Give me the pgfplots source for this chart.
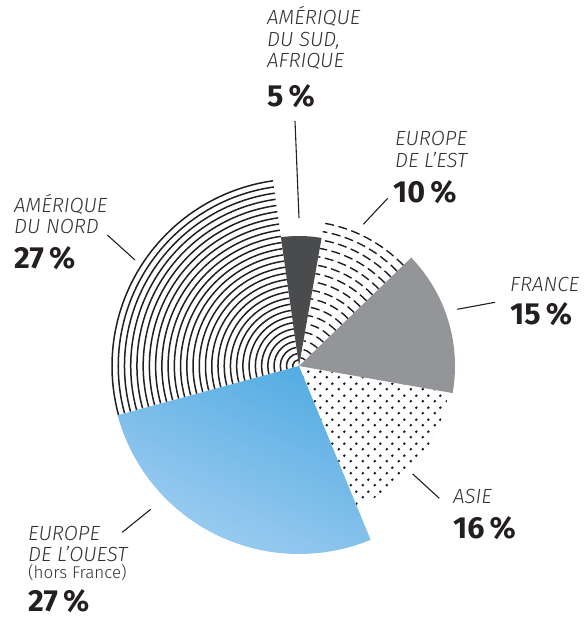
\documentclass[border=0pt]{standalone}
\usepackage{pgfplots}
\pgfplotsset{compat=1.18}
\usepackage{pgfplotstable}
\usetikzlibrary{patterns}
\usepackage{fontspec}
\setmainfont{Fira Sans}[UprightFont=* Light, ItalicFont=* Light Italic, BoldFont=* Bold]
\definecolor{txt}{HTML}{333333}
\definecolor{ink}{HTML}{231F20}
\definecolor{darkslice}{HTML}{4A4B4D}
\definecolor{frgray}{HTML}{939598}
\definecolor{blueA}{HTML}{55ADE3}
\definecolor{blueB}{HTML}{A4CFF1}

\pgfdeclarepatternformonly{bigdots}{\pgfqpoint{0pt}{0pt}}{\pgfqpoint{12pt}{12pt}}{\pgfqpoint{12pt}{12pt}}{%
  \pgfpathcircle{\pgfqpoint{3pt}{3pt}}{1.6pt}%
  \pgfpathcircle{\pgfqpoint{9pt}{9pt}}{1.6pt}%
  \pgfusepath{fill}}

% share (%) and outer radius (px) of each slice, clockwise from the top
\pgfplotstableread{
region pct r
sud    5  130
est    10 145
france 15 156
asie   16 152
ouest  27 188
nord   27 187
}\parts

\newcommand\getval[3]{\pgfplotstablegetelem{#1}{#2}\of\parts\global\let#3\pgfplotsretval}
\newcommand\gset[2]{\pgfmathsetmacro#1{#2}\global\let#1#1}
\newcommand\labf{\color{txt}\itshape\fontsize{20.5}{22}\selectfont}
\newcommand\numf{\color{ink}\bfseries\fontsize{30.5}{32}\selectfont}

\begin{document}
\begin{tikzpicture}
\getval{0}{pct}\pA \getval{0}{r}\rA
\getval{1}{pct}\pB \getval{1}{r}\rB
\getval{2}{pct}\pC \getval{2}{r}\rC
\getval{3}{pct}\pD \getval{3}{r}\rD
\getval{4}{pct}\pE \getval{4}{r}\rE
\getval{5}{pct}\pF \getval{5}{r}\rF
\gset\angO{98}
\gset\angA{\angO-3.6*\pA}
\gset\angB{\angA-3.6*\pB}
\gset\angC{\angB-3.6*\pC}
\gset\angD{\angC-3.6*\pD}
\gset\angE{\angD-3.6*\pE}
\gset\angEE{\angE+360}
\gset\stepF{\rF/30}
\gset\stepB{\rB/17}
\begin{axis}[x=1pt,y=1pt,xmin=0,xmax=586,ymin=0,ymax=620,
  hide axis, clip=false, anchor=origin, at={(0,0)}]
\coordinate (BL) at (axis cs:0,0);
\coordinate (TR) at (axis cs:586,620);
\coordinate (C) at (axis cs:299,254);
% Amerique du Nord: concentric arcs
\pgfplotsinvokeforeach{1,...,30}{
  \draw[ink, line width=1.5pt] (C) ++(\angEE:{#1*\stepF*1pt}) arc[start angle=\angEE, end angle=\angO, radius={#1*\stepF*1pt}];
}
% Europe de l'Est: dashed arcs
\pgfplotsinvokeforeach{1,...,17}{
  \draw[ink, line width=1.4pt, dash pattern=on 9pt off 4.5pt] (C) ++(\angB:{#1*\stepB*1pt}) arc[start angle=\angB, end angle=\angA, radius={#1*\stepB*1pt}];
}
% Asie: dots
\fill[pattern=bigdots, pattern color=ink]
  (C) -- ++(\angC:\rD pt) arc[start angle=\angC, end angle=\angD, radius=\rD pt] -- cycle;
% Europe de l'Ouest: blue gradient
\shade[top color=blueA, bottom color=blueB, shading angle=-25]
  (C) -- ++(\angD:\rE pt) arc[start angle=\angD, end angle=\angE, radius=\rE pt] -- cycle;
% France
\fill[frgray] (C) -- ++(\angB:\rC pt) arc[start angle=\angB, end angle=\angC, radius=\rC pt] -- cycle;
% Amerique du Sud, Afrique
\fill[darkslice] (C) -- ++(\angO:\rA pt) arc[start angle=\angO, end angle=\angA, radius=\rA pt] -- cycle;

% leader lines
\addplot[ink, line width=1.1pt, no markers] coordinates {(295,499) (299,402)};
\addplot[ink, line width=1.1pt, no markers] coordinates {(387.7,421.7) (363.3,395.7)};
\addplot[ink, line width=1.1pt, no markers] coordinates {(457.3,310.7) (495,317.7)};
\addplot[ink, line width=1.1pt, no markers] coordinates {(107.3,385) (135,360)};
\addplot[ink, line width=1.1pt, no markers] coordinates {(412.7,146) (439.3,121.7)};
\addplot[ink, line width=1.1pt, no markers] coordinates {(122.3,87.7) (150.7,110.7)};

% labels
\node[anchor=base west, inner sep=0pt, font=\labf] at (axis cs:267,595) {AMÉRIQUE};
\node[anchor=base west, inner sep=0pt, font=\labf] at (axis cs:267,573) {DU SUD,};
\node[anchor=base west, inner sep=0pt, font=\labf] at (axis cs:267,552) {AFRIQUE};
\node[anchor=base west, inner sep=0pt, font=\numf] at (axis cs:267,513) {5\,\%};

\node[anchor=base west, inner sep=0pt, font=\labf] at (axis cs:395,474) {EUROPE};
\node[anchor=base west, inner sep=0pt, font=\labf] at (axis cs:395,452) {DE L’EST};
\node[anchor=base west, inner sep=0pt, font=\numf] at (axis cs:393,417) {10\,\%};

\node[anchor=base west, inner sep=0pt, font=\labf] at (axis cs:510,328) {FRANCE};
\node[anchor=base west, inner sep=0pt, font=\numf] at (axis cs:510,295) {15\,\%};

\node[anchor=base west, inner sep=0pt, font=\labf] at (axis cs:14,407.7) {AMÉRIQUE};
\node[anchor=base west, inner sep=0pt, font=\labf] at (axis cs:14,386.7) {DU NORD};
\node[anchor=base west, inner sep=0pt, font=\numf] at (axis cs:14,351.7) {27\,\%};

\node[anchor=base west, inner sep=0pt, font=\labf] at (axis cs:453,116.7) {ASIE};
\node[anchor=base west, inner sep=0pt, font=\numf] at (axis cs:453,81.7) {16\,\%};

\node[anchor=base west, inner sep=0pt, font=\labf] at (axis cs:28,79) {EUROPE};
\node[anchor=base west, inner sep=0pt, font=\labf] at (axis cs:28,58.5) {DE L’OUEST};
\node[anchor=base west, inner sep=0pt, font=\color{txt}\fontsize{17}{19}\selectfont] at (axis cs:28,41) {(hors France)};
\node[anchor=base west, inner sep=0pt, font=\numf] at (axis cs:28,9) {27\,\%};
\end{axis}
\pgfresetboundingbox
\path[use as bounding box] (BL) rectangle (TR);
\end{tikzpicture}
\end{document}
